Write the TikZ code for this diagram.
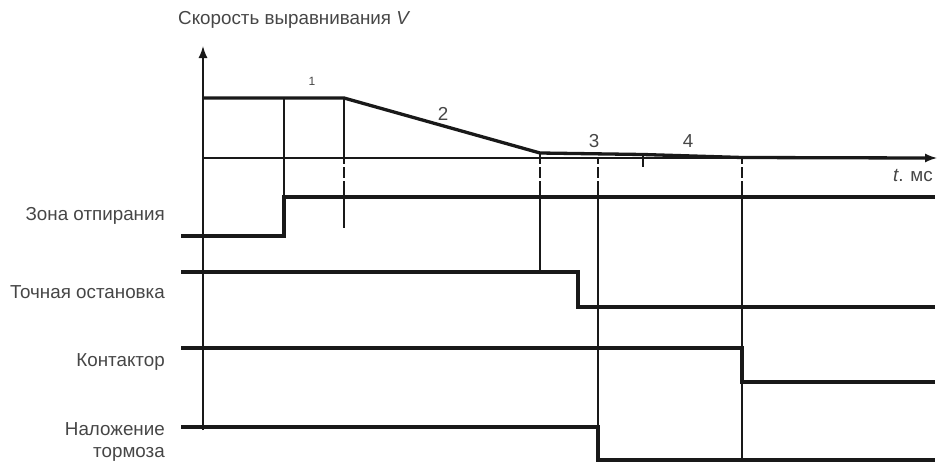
\documentclass[tikz,border=0pt]{standalone}
\usepackage{fontspec}
\setmainfont{Liberation Sans}
\usetikzlibrary{arrows.meta}
\definecolor{inkdark}{RGB}{25,25,25}
\definecolor{labelgray}{RGB}{70,70,70}
\tikzset{
signal/.style={line width=3.3pt, draw=inkdark, line join=miter},
guide/.style={line width=1.4pt, draw=inkdark},
gapguide/.style={guide, dash pattern=on 6pt off 3pt on 11pt off 3pt on 40pt},
axisline/.style={line width=1.5pt, draw=inkdark, -{Latex[length=12pt,width=9pt]}},
rowlabel/.style={font=\fontsize{18.8}{22}\selectfont, text=labelgray, anchor=east, align=right, inner sep=0pt},
numlabel/.style={font=\fontsize{18.8}{22}\selectfont, text=labelgray, inner sep=0pt}
}

\begin{document}
\begin{tikzpicture}[x=1pt,y=-1pt]
\useasboundingbox (0,0) rectangle (942,461);

\def\Yaxis{158}
\def\Yband{197}

% time axis and speed axis
\coordinate (origin) at (203,\Yaxis);
\coordinate (vtop) at (203,46);
\coordinate (tend) at (937,\Yaxis);
\draw[axisline] (origin) -- (tend);
\draw[axisline] (203,430) -- (vtop);

\node[numlabel, anchor=west] (vtitle) at (178,20) {Скорость выравнивания \textit{V}};
\node[numlabel, anchor=east] (tunit) at (933,176) {\textit{t}. мс};

% speed profile
\draw[signal] (203,98) -- (344,98) -- (540,153) -- (643,154.5) -- (742,157.5) -- (925,\Yaxis);
\draw[guide] (643,155) -- (643,167);

\node[numlabel, font=\fontsize{12}{14}\selectfont] (p1) at (312,81) {1};
\node[numlabel] (p2) at (443,114) {2};
\node[numlabel] (p3) at (594,141) {3};
\node[numlabel] (p4) at (688,141) {4};

% vertical guides
\draw[guide] (284,98) -- (284,\Yband);
\draw[guide] (344,98) -- (344,\Yaxis);
\foreach \x in {203,344,540,598,742} {
  \draw[gapguide] (\x,\Yaxis) -- (\x,\Yband);
}
\draw[guide] (203,\Yband) -- (203,428);
\draw[guide] (344,\Yband) -- (344,228);
\draw[guide] (540,153) -- (540,\Yaxis);
\draw[guide] (540,\Yband) -- (540,272);
\draw[guide] (598,\Yband) -- (598,460);
\draw[guide] (742,\Yband) -- (742,460);

% signals
\draw[signal] (181,236) -- (284,236) -- (284,\Yband) -- (935,\Yband);
\draw[signal] (181,272) -- (578,272) -- (578,307) -- (935,307);
\draw[signal] (181,348) -- (742,348) -- (742,382) -- (935,382);
\draw[signal] (181,427) -- (598,427) -- (598,460) -- (935,460);

\node[rowlabel] (zone) at (165,216) {Зона отпирания};
\node[rowlabel] (stop) at (165,292) {Точная остановка};
\node[rowlabel] (cont) at (165,362) {Контактор};
\node[rowlabel] (brake) at (165,442) {Наложение\\тормоза};

\end{tikzpicture}
\end{document}
